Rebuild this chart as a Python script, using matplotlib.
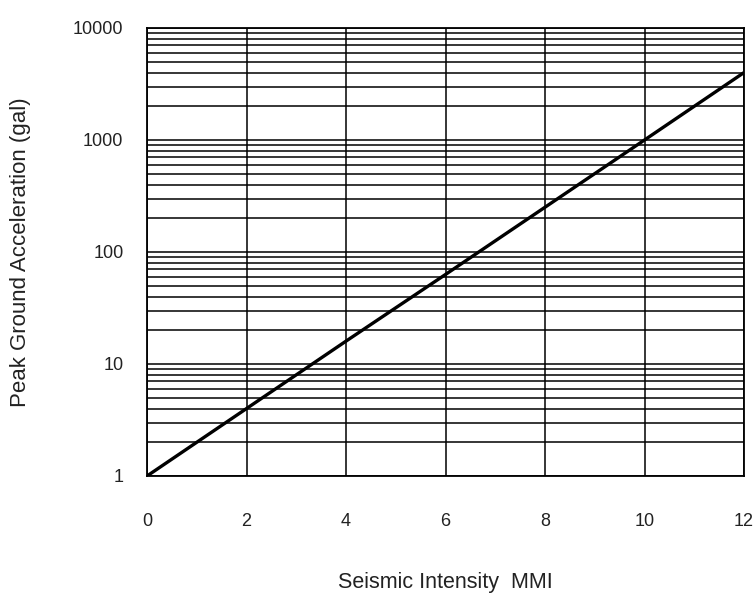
import numpy as np
import matplotlib.pyplot as plt
from matplotlib.ticker import LogLocator, FixedLocator, NullFormatter

plt.rcParams['font.family'] = ['Liberation Sans', 'DejaVu Sans']

# intensity vs acceleration
mmi = [0, 2, 4, 6, 8, 10, 12]
pga = [1, 4, 16, 63, 251, 1000, 4000]
x_ticks = [0, 2, 4, 6, 8, 10, 12]
y_ticks = [1, 10, 100, 1000, 10000]
y_labels = ['1', '10', '100', '1000', '10000']

fig = plt.figure(figsize=(7.56, 6), dpi=100)
ax = fig.add_axes([147/756, 1 - 476/600, (744-147)/756, (476-28)/600])

ax.plot(mmi, pga, color='black', lw=2.4, solid_capstyle='butt', zorder=3)

ax.set_yscale('log')
ax.set_xlim(0, 12)
ax.set_ylim(1, 10000)
ax.xaxis.set_major_locator(FixedLocator(x_ticks))
ax.yaxis.set_major_locator(FixedLocator(y_ticks))
ax.set_yticklabels(y_labels)
ax.yaxis.set_minor_locator(LogLocator(base=10, subs=np.arange(2, 10)))
ax.yaxis.set_minor_formatter(NullFormatter())

ax.grid(True, which='both', axis='y', color='black', lw=1.1)
ax.grid(True, which='major', axis='x', color='black', lw=1.1)
ax.tick_params(which='both', length=0, labelsize=13, labelcolor='#222222')
ax.tick_params(axis='x', pad=27)
ax.tick_params(axis='y', pad=17)
for s in ax.spines.values():
    s.set_linewidth(1.3)

ax.set_xlabel('Seismic Intensity  MMI', fontsize=15.5, labelpad=30, color='#222222')
ax.set_ylabel('Peak Ground Acceleration (gal)', fontsize=16, labelpad=30, color='#222222')

fig.savefig('out.png', dpi=100)
